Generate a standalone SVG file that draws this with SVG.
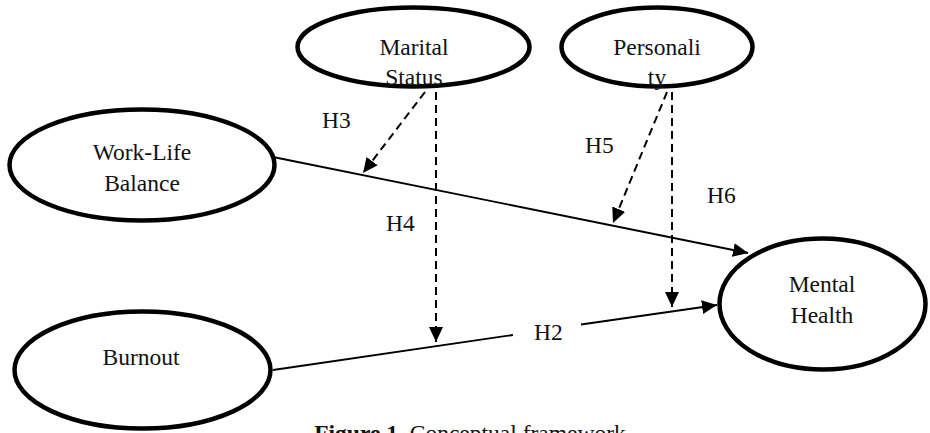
<svg xmlns="http://www.w3.org/2000/svg" width="930" height="433" viewBox="0 0 930 433">
<defs>
<marker id="arr" markerUnits="userSpaceOnUse" markerWidth="16" markerHeight="15" refX="15" refY="7" orient="auto">
<path d="M0,0 L15,7 L0,14 z" fill="#000"/>
</marker>
<style>
.node ellipse{fill:#fff;stroke:#000;stroke-width:4.5}
text{font-family:"Liberation Serif","Times New Roman",serif;font-size:23.5px;fill:#111;text-anchor:middle}
.lbl{text-anchor:start}
.solid{stroke:#000;stroke-width:1.8;fill:none}
.dash{stroke:#000;stroke-width:2;fill:none;stroke-dasharray:8,5}
</style>
</defs>
<rect width="930" height="433" fill="#fff"/>
<g id="connectors">
<line class="solid" x1="273" y1="157" x2="748" y2="253" marker-end="url(#arr)"/>
<line class="solid" x1="273" y1="370" x2="513" y2="335"/>
<line class="solid" x1="581" y1="324.5" x2="717" y2="305" marker-end="url(#arr)"/>
<line class="dash" x1="425" y1="92" x2="363" y2="173" marker-end="url(#arr)"/>
<line class="dash" x1="436" y1="92" x2="436" y2="342" marker-end="url(#arr)"/>
<line class="dash" x1="667" y1="92" x2="613" y2="223" marker-end="url(#arr)"/>
<line class="dash" x1="672" y1="92" x2="672" y2="307" marker-end="url(#arr)"/>
<text class="lbl" x="322" y="128">H3</text>
<text class="lbl" x="386" y="231">H4</text>
<text class="lbl" x="585" y="153">H5</text>
<text class="lbl" x="707" y="203">H6</text>
<text class="lbl" x="534" y="340">H2</text>
</g>
<g id="marital" class="node">
<ellipse cx="413.5" cy="47" rx="116" ry="39.5"/>
<text x="414" y="55">Marital</text>
<text x="414" y="85">Status</text>
</g>
<g id="personality" class="node">
<ellipse cx="657" cy="47" rx="95.5" ry="39.5"/>
<text x="657" y="55">Personali</text>
<text x="657" y="85">ty</text>
</g>
<g id="worklife" class="node">
<ellipse cx="142" cy="165" rx="132.5" ry="55.5"/>
<text x="142" y="160">Work-Life</text>
<text x="142" y="191">Balance</text>
</g>
<g id="burnout" class="node">
<ellipse cx="142.5" cy="370" rx="128" ry="58.5"/>
<text x="141" y="365">Burnout</text>
</g>
<g id="mental" class="node">
<ellipse cx="822.5" cy="304" rx="103" ry="65.5"/>
<text x="822" y="292">Mental</text>
<text x="822" y="323">Health</text>
</g>
<g id="caption">
<text x="470" y="441"><tspan font-weight="bold">Figure 1.</tspan>  Conceptual framework</text>
</g>
</svg>
